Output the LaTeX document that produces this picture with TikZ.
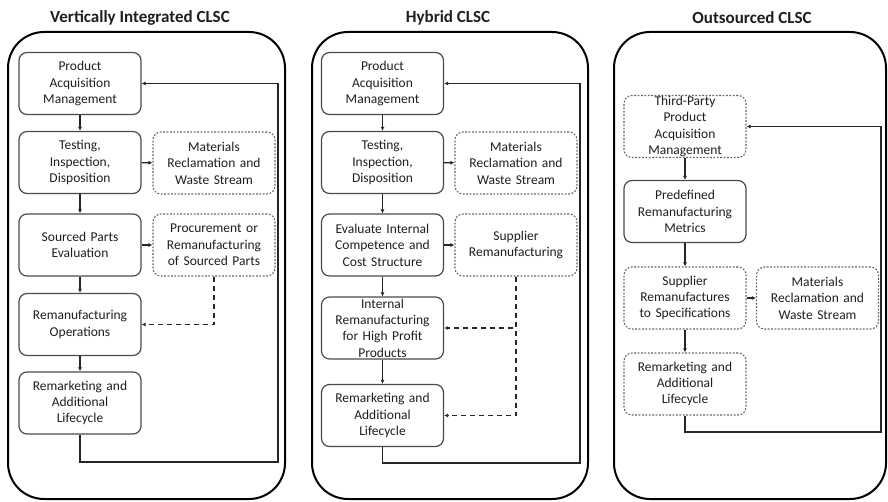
\documentclass[tikz,border=0pt]{standalone}
\usepackage{fontspec}
\setmainfont{Carlito}
\usetikzlibrary{arrows.meta}
\definecolor{bx}{HTML}{4A4A4A}
\definecolor{tx}{HTML}{1E1E1E}
\tikzset{
  boxbase/.style={rounded corners=8pt, minimum width=122pt, minimum height=62pt, inner sep=0pt,
    text width=118pt, align=center, text=tx, font=\fontsize{13.5}{16.4}\selectfont},
  solidbox/.style={boxbase, draw=bx, line width=1.2pt},
  dotbox/.style={boxbase, draw=bx!85, line width=1.1pt, dash pattern=on 1.8pt off 1.6pt},
  outer/.style={draw=black, line width=2pt, rounded corners=36pt},
  ttl/.style={font=\fontsize{17}{19}\selectfont\bfseries, text=tx, inner sep=0pt},
  arr/.style={draw=black!85, line width=1.2pt, -{Latex[length=4pt,width=4pt]}},
  dasharr/.style={arr, dash pattern=on 5pt off 4pt},
  loopline/.style={arr, line width=1.5pt}
}
\begin{document}
\begin{tikzpicture}[x=1pt,y=-1pt]
\useasboundingbox (0,0) rectangle (888,502);
% titles
\node[ttl] (t1) at (140,18) {Vertically Integrated CLSC};
\node[ttl] (t2) at (448,18) {Hybrid CLSC};
\node[ttl] (t3) at (752,18) {Outsourced CLSC};
% outer frames
\draw[outer] (8,32) rectangle (285,499);
\draw[outer] (312,32) rectangle (588,499);
\draw[outer] (614,32) rectangle (886,499);

% ---------- Panel 1 ----------
\node[solidbox] (a1) at (80,83.5) {Product\\Acquisition\\Management};
\node[solidbox] (a2) at (80,162.5) {Testing,\\Inspection,\\Disposition};
\node[solidbox] (a3) at (80,245) {Sourced Parts\\Evaluation};
\node[solidbox] (a4) at (80,324.5) {Remanufacturing\\Operations};
\node[solidbox] (a5) at (80,403) {Remarketing and\\Additional\\Lifecycle};
\node[dotbox] (m1) at (214,163) {Materials\\Reclamation and\\Waste Stream};
\node[dotbox] (p1) at (214,245) {Procurement or\\Remanufacturing\\of Sourced Parts};
\draw[arr] (a1) -- (a2);
\draw[arr] (a2) -- (a3);
\draw[arr] (a3) -- (a4);
\draw[arr] (a4) -- (a5);
\draw[arr] (a2) -- (m1);
\draw[arr] (a3) -- (p1);
\draw[dasharr] (p1.south) |- (a4.east);
\coordinate (r1) at (278,462);
\draw[loopline] (a5.south) |- (r1) |- (a1.east);

% ---------- Panel 2 ----------
\node[solidbox] (b1) at (382.5,83.5) {Product\\Acquisition\\Management};
\node[solidbox] (b2) at (382.5,162.5) {Testing,\\Inspection,\\Disposition};
\node[solidbox] (b3) at (382.5,245) {Evaluate Internal\\Competence and\\Cost Structure};
\node[solidbox] (b4) at (382.5,328) {Internal\\Remanufacturing\\for High Profit\\Products};
\node[solidbox] (b5) at (382.5,415.5) {Remarketing and\\Additional\\Lifecycle};
\node[dotbox] (m2) at (516,163) {Materials\\Reclamation and\\Waste Stream};
\node[dotbox] (s2) at (516,245) {Supplier\\Remanufacturing};
\draw[arr] (b1) -- (b2);
\draw[arr] (b2) -- (b3);
\draw[arr] (b3) -- (b4);
\draw[arr] (b4) -- (b5);
\draw[arr] (b2) -- (m2);
\draw[arr] (b3) -- (s2);
\draw[dasharr] (s2.south) |- (b4.east);
\draw[dasharr] (s2.south) |- (b5.east);
\coordinate (r2) at (580,463);
\draw[loopline] (b5.south) |- (r2) |- (b1.east);

% ---------- Panel 3 ----------
\node[dotbox] (c1) at (685,126.5) {Third-Party\\Product\\Acquisition\\Management};
\node[solidbox] (c2) at (685,211.5) {Predefined\\Remanufacturing\\Metrics};
\node[dotbox] (c3) at (685,298) {Supplier\\Remanufactures\\to Specifications};
\node[dotbox] (c4) at (685,384) {Remarketing and\\Additional\\Lifecycle};
\node[dotbox] (m3) at (817.5,298) {Materials\\Reclamation and\\Waste Stream};
\draw[arr] (c1) -- (c2);
\draw[arr] (c2) -- (c3);
\draw[arr] (c3) -- (c4);
\draw[arr] (c3) -- (m3);
\coordinate (r3) at (881,432);
\draw[loopline] (c4.south) |- (r3) |- (c1.east);
\end{tikzpicture}
\end{document}
